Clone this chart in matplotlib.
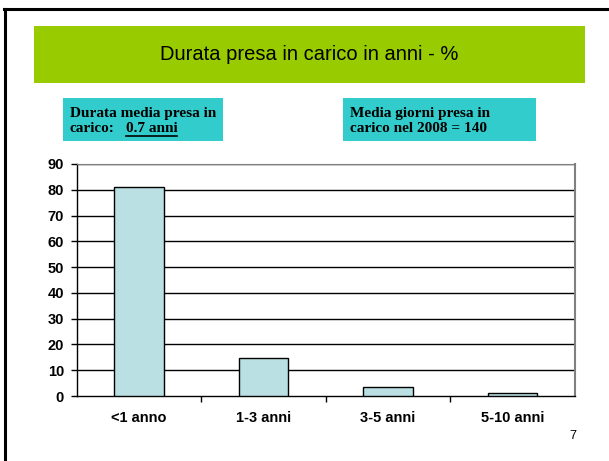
import matplotlib.pyplot as plt
from matplotlib.patches import Rectangle
from matplotlib.lines import Line2D

categories = ['<1 anno', '1-3 anni', '3-5 anni', '5-10 anni']
values = [81, 14.6, 3.4, 1.2]
yticks = [0, 10, 20, 30, 40, 50, 60, 70, 80, 90]

W, H = 609, 461
fig = plt.figure(figsize=(W / 100, H / 100), dpi=100)

def fx(px):
    return px / W

def fy(py):
    return 1 - py / H

# slide frame (left and top edges)
fig.add_artist(Line2D([fx(4.5), fx(4.5)], [fy(9.5), 0], color='black', lw=2.2, transform=fig.transFigure))
fig.add_artist(Line2D([fx(3.5), 1], [fy(9.5), fy(9.5)], color='black', lw=2.2, transform=fig.transFigure))

# green title banner
fig.add_artist(Rectangle((fx(34), fy(83)), fx(585) - fx(34), fy(26) - fy(83),
                         facecolor='#99CC00', edgecolor='none', transform=fig.transFigure))
fig.text(fx(309), fy(55), 'Durata presa in carico in anni - %', ha='center', va='center',
         fontsize=14.5, family='Liberation Sans')

# cyan info boxes
for x0, x1 in [(63, 223), (343, 536)]:
    fig.add_artist(Rectangle((fx(x0), fy(141)), fx(x1) - fx(x0), fy(98) - fy(141),
                             facecolor='#33CCCC', edgecolor='none', transform=fig.transFigure))

serif = dict(fontsize=11, family='Liberation Serif', weight='bold', va='baseline')
fig.text(fx(70), fy(116.7), 'Durata media presa in', **serif)
fig.text(fx(70), fy(132.3), 'carico:', **serif)
fig.text(fx(126), fy(132.3), '0.7 anni', **serif)
fig.add_artist(Line2D([fx(126), fx(177)], [fy(135.7), fy(135.7)], color='black', lw=1.2, transform=fig.transFigure))
fig.text(fx(350), fy(116.7), 'Media giorni presa in', **serif)
fig.text(fx(350), fy(132.3), 'carico nel 2008 = 140', **serif)

# bar chart
ax = fig.add_axes([fx(76.7), fy(396), fx(574.7) - fx(76.7), fy(164) - fy(396)])
x = range(len(categories))
ax.bar(x, values, width=0.4, color='#BAE0E3', edgecolor='black', linewidth=1, zorder=3)
ax.set_xlim(-0.5, len(categories) - 0.5)
ax.set_ylim(0, 90)
ax.set_yticks(yticks)
ax.set_yticklabels([str(v) for v in yticks], fontsize=10.5, weight='bold', family='Liberation Sans')
for v in yticks[1:]:
    ax.axhline(v, color='black', lw=1, zorder=1)

ax.set_xticks([i + 0.5 for i in range(len(categories) - 1)])
ax.set_xticklabels([])
ax.tick_params(axis='x', length=4, direction='out', width=1)
ax.tick_params(axis='y', length=4.3, direction='out', width=1, pad=4.8)
for i, c in enumerate(categories):
    ax.text(i, -8.5, c, ha='center', va='center', fontsize=10.5, weight='bold',
            family='Liberation Sans')

ax.spines['top'].set_color('#808080')
ax.spines['right'].set_color('#808080')
ax.spines['right'].set_linewidth(1.5)
ax.spines['left'].set_linewidth(1)
ax.spines['bottom'].set_linewidth(1)

fig.text(fx(573), fy(436), '7', ha='center', va='center', fontsize=9, family='Liberation Sans')

fig.savefig('out.png', dpi=100)
